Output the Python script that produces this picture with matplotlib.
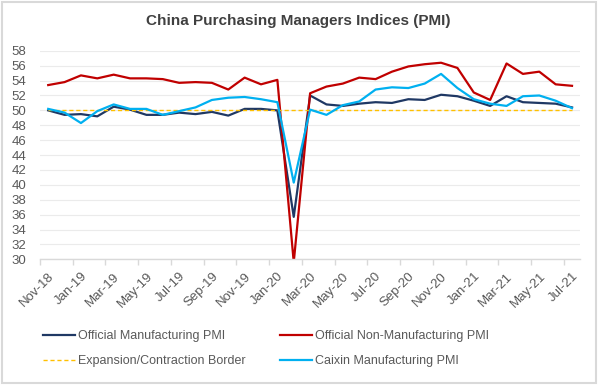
import numpy as np
import matplotlib
matplotlib.use("Agg")
import matplotlib.pyplot as plt
from matplotlib.patches import Rectangle
from matplotlib.ticker import FixedLocator

# monthly data, Nov-18 .. Jul-21
months = ["Nov-18", "Dec-18", "Jan-19", "Feb-19", "Mar-19", "Apr-19", "May-19", "Jun-19",
          "Jul-19", "Aug-19", "Sep-19", "Oct-19", "Nov-19", "Dec-19", "Jan-20", "Feb-20",
          "Mar-20", "Apr-20", "May-20", "Jun-20", "Jul-20", "Aug-20", "Sep-20", "Oct-20",
          "Nov-20", "Dec-20", "Jan-21", "Feb-21", "Mar-21", "Apr-21", "May-21", "Jun-21",
          "Jul-21"]
official_mfg = [50.0, 49.4, 49.5, 49.2, 50.5, 50.1, 49.4, 49.4, 49.7, 49.5, 49.8, 49.3,
                50.2, 50.2, 50.0, 35.7, 52.0, 50.8, 50.6, 50.9, 51.1, 51.0, 51.5, 51.4,
                52.1, 51.9, 51.3, 50.6, 51.9, 51.1, 51.0, 50.9, 50.4]
official_nonmfg = [53.4, 53.8, 54.7, 54.3, 54.8, 54.3, 54.3, 54.2, 53.7, 53.8, 53.7, 52.8,
                   54.4, 53.5, 54.1, 29.6, 52.3, 53.2, 53.6, 54.4, 54.2, 55.2, 55.9, 56.2,
                   56.4, 55.7, 52.4, 51.4, 56.3, 54.9, 55.2, 53.5, 53.3]
caixin_mfg = [50.2, 49.7, 48.3, 49.9, 50.8, 50.2, 50.2, 49.4, 49.9, 50.4, 51.4, 51.7,
              51.8, 51.5, 51.1, 40.3, 50.1, 49.4, 50.7, 51.2, 52.8, 53.1, 53.0, 53.6,
              54.9, 53.0, 51.5, 50.9, 50.6, 51.9, 52.0, 51.3, 50.3]
border = [50] * len(months)

font = "Liberation Sans"
grey = "#595959"

fig = plt.figure(figsize=(6, 3.85), dpi=100)
ax = fig.add_axes([0.0667, 0.3265, 0.9003, 0.5415])

x = np.arange(len(months))
l1, = ax.plot(x, official_mfg, color="#1F3864", lw=1.6, label="Official Manufacturing PMI")
l2, = ax.plot(x, official_nonmfg, color="#C00000", lw=1.6, label="Official Non-Manufacturing PMI")
l3, = ax.plot(x, border, color="#FFC000", lw=1.0, ls=(0, (3, 2)), label="Expansion/Contraction Border")
l4, = ax.plot(x, caixin_mfg, color="#00B0F0", lw=1.6, label="Caixin Manufacturing PMI")

ax.set_xlim(-0.5, len(months) - 0.5)
ax.set_ylim(30, 58)
ax.set_yticks(np.arange(30, 59, 2))
ax.grid(axis="y", color="#EBEBEB", lw=0.8)
ax.set_axisbelow(True)

ax.set_xticks(x[::2])
ax.set_xticklabels(months[::2], rotation=45, ha="right", rotation_mode="anchor")
ax.xaxis.set_minor_locator(FixedLocator(np.arange(-0.5, len(months), 2)))
ax.tick_params(axis="x", which="major", length=0, pad=8, labelsize=9.5, labelcolor=grey)
ax.tick_params(axis="x", which="minor", length=4, color="#D9D9D9", width=1)
ax.tick_params(axis="y", length=0, labelsize=9.5, labelcolor=grey, pad=10)
for lab in ax.get_xticklabels() + ax.get_yticklabels():
    lab.set_fontfamily(font)

for s in ["top", "right", "left"]:
    ax.spines[s].set_visible(False)
ax.spines["bottom"].set_color("#D9D9D9")
ax.spines["bottom"].set_linewidth(1)

fig.text(0.497, 0.945, "China Purchasing Managers Indices (PMI)", ha="center", va="center",
         fontsize=11, fontweight="bold", color="#404040", family=font)

fig.legend([l1, l3, l2, l4], [h.get_label() for h in [l1, l3, l2, l4]], ncol=2,
           loc="upper left", bbox_to_anchor=(0.063, 0.155), frameon=False,
           prop={"family": font, "size": 9}, labelcolor=grey, handlelength=2.6,
           handletextpad=0.2, columnspacing=2.75, labelspacing=1.05, borderaxespad=0)

fig.patches.append(Rectangle((0.003, 0.005), 0.99, 0.99, transform=fig.transFigure,
                             fill=False, edgecolor="#D9D9D9", lw=1.5))

fig.savefig("out.png", dpi=100)
